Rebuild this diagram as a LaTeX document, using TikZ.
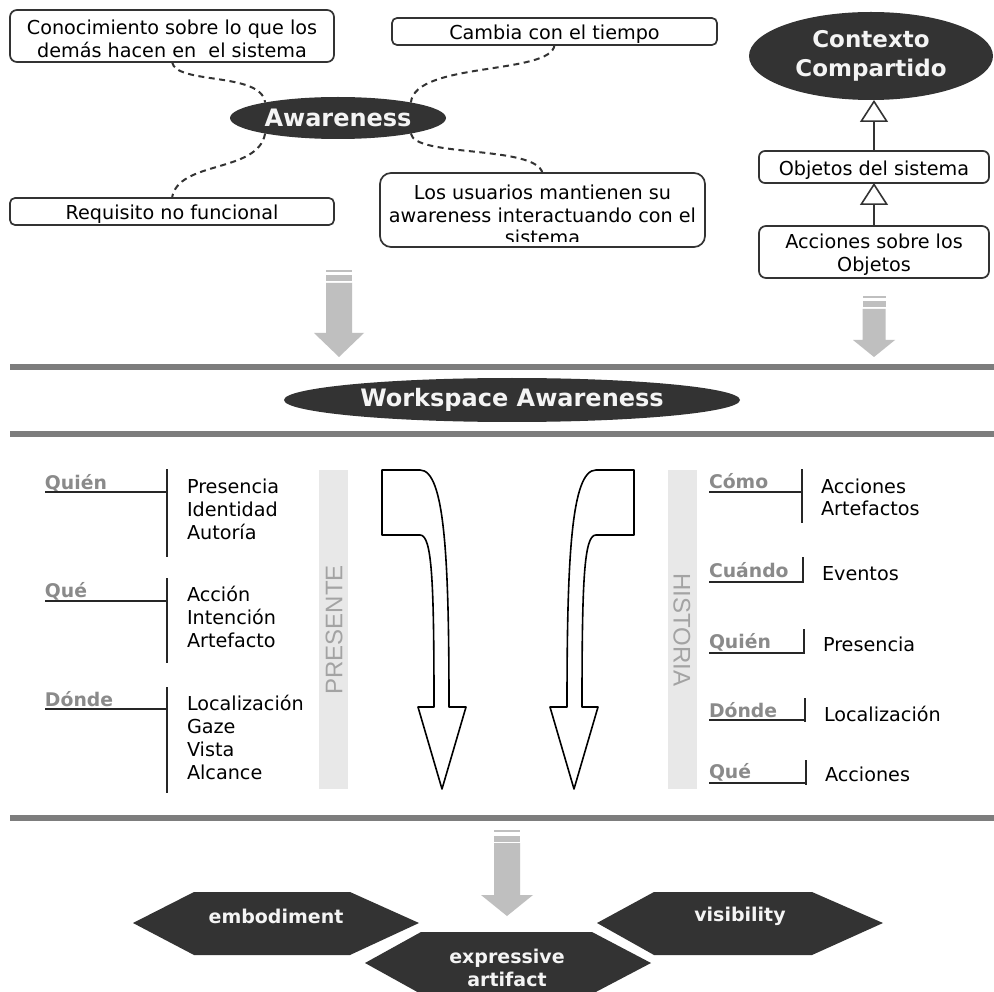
\documentclass[tikz,border=0pt]{standalone}
\usepackage{fontspec}
\setmainfont{DejaVu Sans}
\newfontfamily\bandfont{Liberation Sans}
\usetikzlibrary{shapes.geometric,arrows.meta}

\definecolor{inkdark}{HTML}{333333}
\definecolor{rulegray}{HTML}{7D7D7D}
\definecolor{arrowgray}{HTML}{BFBFBF}
\definecolor{bandgray}{HTML}{E8E8E8}
\definecolor{bandtext}{HTML}{A3A3A3}
\definecolor{labelgray}{HTML}{8A8A8A}
\definecolor{whitetext}{HTML}{F4F4F4}

% gray block arrow pointing down: x, top, head base, tip, half shaft, half head
\newcommand{\downblock}[6]{%
  \fill[arrowgray] (#1-#5,#2) rectangle (#1+#5,#2+2.3);
  \fill[arrowgray] (#1-#5,#2+5.5) rectangle (#1+#5,#2+11.5);
  \fill[arrowgray] (#1-#5,#2+13) -- (#1+#5,#2+13) -- (#1+#5,#3) -- (#1+#6,#3)
    -- (#1,#4) -- (#1-#6,#3) -- (#1-#5,#3) -- cycle;
}
% taller first line, lowers a multi-line box text a little
\newcommand{\toppad}{\rule{0pt}{20.5pt}}

\tikzset{
  every node/.style={inner sep=0pt, outer sep=0pt},
  notebox/.style={draw=inkdark, line width=1.7pt, rounded corners=7pt, fill=white,
    align=center, font=\fontsize{19.2}{23}\selectfont},
  oneline/.style={text height=18.5pt, text depth=1.5pt},
  darkoval/.style={ellipse, fill=inkdark, text=whitetext, align=center,
    font=\bfseries\fontsize{24}{29}\selectfont},
  dashlink/.style={draw=inkdark, line width=2pt, dash pattern=on 6pt off 4.5pt},
  item/.style={font=\fontsize{19.2}{23}\selectfont, text=black, anchor=base west},
  cat/.style={font=\bfseries\fontsize{18.8}{23}\selectfont, text=labelgray, anchor=base west},
  bracket/.style={draw=black!85, line width=1.6pt},
  rule/.style={draw=rulegray, line width=6pt},
  hollow/.style={draw=black, line width=1.6pt, fill=white, line join=round},
  hex/.style={fill=inkdark},
  hextext/.style={text=whitetext, font=\bfseries\fontsize{19}{23}\selectfont, align=center},
  band/.style={fill=bandgray},
  bandlabel/.style={text=bandtext, font=\bandfont\fontsize{24}{24}\selectfont},
  inherit/.style={draw=inkdark, line width=1.6pt, -{Triangle[open, length=22pt, width=28pt]}},
}

\begin{document}
\begin{tikzpicture}[x=1pt, y=-1pt]
\useasboundingbox (0,0) rectangle (994,992);
\fill[white] (0,0) rectangle (994,992);

% ---------- awareness mind map ----------
\node[darkoval, minimum width=216pt, minimum height=42pt] (aw) at (338,118) {Awareness};

\node[notebox, minimum width=324pt, minimum height=52pt] (know) at (172,36)
  {\toppad Conocimiento sobre lo que los\\demás hacen en\ \ el sistema};
\node[notebox, oneline, minimum width=325pt, minimum height=27pt, rounded corners=5pt] (change) at (554.5,31.5)
  {Cambia con el tiempo};
\node[notebox, oneline, minimum width=324pt, minimum height=27pt, rounded corners=5pt] (req) at (172,211.5)
  {Requisito no funcional};
\node[notebox, minimum width=325pt, minimum height=74pt, rounded corners=11pt] (users) at (542.5,210) {};
\begin{scope}
  \clip (382,175) rectangle (703,242);
  \node[align=center, font=\fontsize{19.2}{22.5}\selectfont] (userstext) at (542.5,215)
    {Los usuarios mantienen su\\awareness interactuando con el\\sistema};
\end{scope}

\draw[dashlink] (know.south) .. controls +(4,23) and +(-4,-31) .. (aw.168);
\draw[dashlink] (aw.192) .. controls +(-7,40) and +(6,-38) .. (req.north);
\draw[dashlink] (change.south) .. controls +(-3,30) and +(4,-41) .. (aw.12);
\draw[dashlink] (aw.-12) .. controls +(3,24) and +(-7,-28) .. (users.north);

% ---------- shared context ----------
\node[darkoval, minimum width=244pt, minimum height=88pt, font=\bfseries\fontsize{23}{29}\selectfont]
  (ctx) at (871,56) {Contexto\\Compartido};
\node[notebox, oneline, minimum width=230pt, minimum height=32pt, rounded corners=6pt] (obj) at (874,167)
  {Objetos del sistema};
\node[notebox, minimum width=230pt, minimum height=52pt] (act) at (874,252)
  {\toppad Acciones sobre los\\Objetos};
\draw[inherit] (obj.north) -- (obj.north |- ctx.south);
\draw[inherit] (act.north) -- (obj.south);

% ---------- arrows into workspace awareness ----------
\downblock{339}{270}{333}{357}{13}{25}
\downblock{874}{296}{340}{357}{11.5}{21}

\draw[rule] (10,367) -- (994,367);
\node[darkoval, minimum width=456pt, minimum height=44pt] (wa) at (512,400) {Workspace Awareness};
\draw[rule] (10,434) -- (994,434);

% ---------- present ----------
\fill[band] (319,470) rectangle (348,789);
\node[bandlabel, rotate=90] (present) at (334,630) {PRESENTE};

\node[cat] (who) at (45,489) {Quién};
\draw[bracket] (45,492) -- (167,492);
\draw[bracket] (167,469) -- (167,557);
\node[item] (p1) at (187,493) {Presencia};
\node[item] (p2) at (187,516) {Identidad};
\node[item] (p3) at (187,539) {Autoría};

\node[cat] (what) at (45,597) {Qué};
\draw[bracket] (45,601) -- (167,601);
\draw[bracket] (167,578) -- (167,663);
\node[item] (p4) at (187,601) {Acción};
\node[item] (p5) at (187,624) {Intención};
\node[item] (p6) at (187,647) {Artefacto};

\node[cat] (where) at (45,706) {Dónde};
\draw[bracket] (45,709) -- (167,709);
\draw[bracket] (167,687) -- (167,793);
\node[item] (p7) at (187,710) {Localización};
\node[item] (p8) at (187,733) {Gaze};
\node[item] (p9) at (187,756) {Vista};
\node[item] (p10) at (187,779) {Alcance};

% ---------- hollow bent arrows ----------
\draw[hollow] (382,470) -- (420,470) .. controls (445,470) and (449,560) .. (449,707)
  -- (466,707) -- (442,789) -- (418,707) -- (434,707)
  .. controls (434,580) and (432,535) .. (420,535) -- (382,535) -- cycle;
\draw[hollow] (634,470) -- (596,470) .. controls (571,470) and (567,560) .. (567,707)
  -- (550,707) -- (574,789) -- (598,707) -- (582,707)
  .. controls (582,580) and (584,535) .. (596,535) -- (634,535) -- cycle;

% ---------- history ----------
\fill[band] (668,470) rectangle (697,789);
\node[bandlabel, rotate=-90] (history) at (682,630) {HISTORIA};

\node[cat] (how) at (709,488) {Cómo};
\draw[bracket] (709,492) -- (802,492);
\draw[bracket] (802,469) -- (802,523);
\node[item] (h1) at (821,493) {Acciones};
\node[item] (h2) at (821,515) {Artefactos};

\node[cat] (when) at (709,577) {Cuándo};
\draw[bracket] (709,582) -- (803,582);
\draw[bracket] (803,557) -- (803,583);
\node[item] (h3) at (822,580) {Eventos};

\node[cat] (whoh) at (709,648) {Quién};
\draw[bracket] (709,653) -- (804,653);
\draw[bracket] (804,629) -- (804,654);
\node[item] (h4) at (823,651) {Presencia};

\node[cat] (whereh) at (709,717) {Dónde};
\draw[bracket] (709,720) -- (805,720);
\draw[bracket] (805,698) -- (805,722);
\node[item] (h5) at (824,721) {Localización};

\node[cat] (whath) at (709,778) {Qué};
\draw[bracket] (709,783) -- (806,783);
\draw[bracket] (806,760) -- (806,785);
\node[item] (h6) at (825,781) {Acciones};

\draw[rule] (10,818) -- (994,818);

% ---------- mechanisms ----------
\downblock{507}{830}{895}{916}{13}{26}

\fill[hex] (133,923) -- (194,892) -- (350,892) -- (419,923) -- (350,955) -- (194,955) -- cycle;
\node[hextext] (emb) at (276,916) {embodiment};
\fill[hex] (597,923) -- (654,892) -- (812,892) -- (883,923) -- (812,955) -- (654,955) -- cycle;
\node[hextext] (vis) at (740,916) {visibility};
\fill[hex] (365,963) -- (421,932) -- (592,932) -- (651,963) -- (592,994) -- (421,994) -- cycle;
\node[hextext] (expr) at (507,968) {expressive\\artifact};
\end{tikzpicture}
\end{document}
